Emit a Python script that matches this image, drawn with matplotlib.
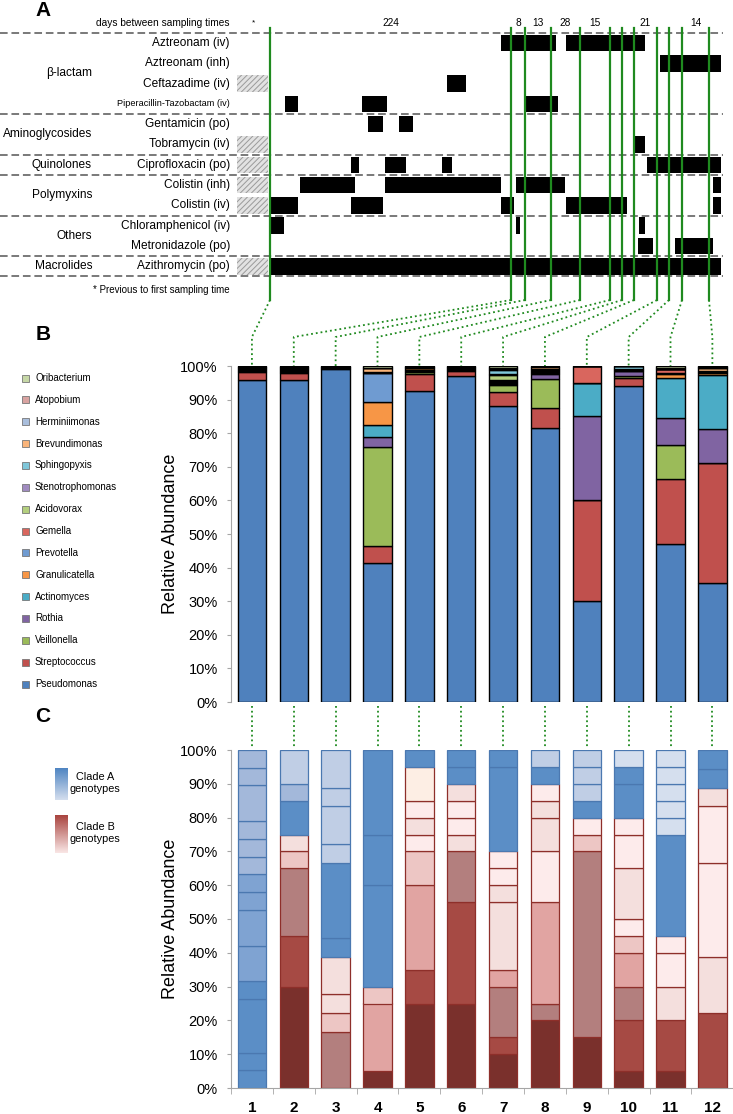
import numpy as np
import matplotlib
matplotlib.use('Agg')
import matplotlib.pyplot as plt
from matplotlib.patches import Rectangle
from matplotlib.colors import LinearSegmentedColormap

plt.rcParams['font.family'] = ['Liberation Sans', 'DejaVu Sans']
plt.rcParams['hatch.linewidth'] = 0.7

# ---------------- panel A data (timeline) ----------------
sample_x = [270, 511, 525, 551, 580, 610, 622, 634, 657, 669, 682, 709]
gap_labels = {0: '224', 1: '8', 2: '13', 3: '28', 4: '15', 7: '21', 10: '14'}

drug_names = ['Aztreonam (iv)', 'Aztreonam (inh)', 'Ceftazadime (iv)',
              'Piperacillin-Tazobactam (iv)', 'Gentamicin (po)', 'Tobramycin (iv)',
              'Ciprofloxacin (po)', 'Colistin (inh)', 'Colistin (iv)',
              'Chloramphenicol (iv)', 'Metronidazole (po)', 'Azithromycin (po)']
drug_prev = [0, 0, 1, 0, 0, 1, 1, 1, 1, 0, 0, 1]
drug_periods = [
    [(501, 556), (566, 645)],
    [(660, 721)],
    [(447, 466)],
    [(285, 298), (362, 387), (526, 558)],
    [(368, 383), (399, 413)],
    [(635, 645)],
    [(351, 359), (385, 406), (442, 452), (647, 721)],
    [(300, 355), (385, 501), (516, 565), (713, 721)],
    [(271, 298), (351, 383), (501, 514), (566, 627), (713, 721)],
    [(271, 284), (516, 520), (639, 645)],
    [(638, 653), (675, 713)],
    [(271, 721)],
]
groups = ['β-lactam', 'Aminoglycosides', 'Quinolones', 'Polymyxins', 'Others', 'Macrolides']
group_rows = [(0, 3), (4, 5), (6, 6), (7, 8), (9, 10), (11, 11)]

# ---------------- panel B data (% relative abundance) ----------------
species = ['Pseudomonas', 'Streptococcus', 'Veillonella', 'Rothia', 'Actinomyces',
           'Granulicatella', 'Prevotella', 'Gemella', 'Acidovorax', 'Stenotrophomonas',
           'Sphingopyxis', 'Brevundimonas', 'Herminiimonas', 'Atopobium', 'Oribacterium']
sp_colors = ['#4F81BD', '#C0504D', '#9BBB59', '#8064A2', '#4BACC6', '#F79646',
             '#6F9BD1', '#D9665E', '#B4CF7E', '#A08BC0', '#7FC7DA', '#F9B47A',
             '#A9BEDC', '#D9A3A1', '#C6D7A6']
pseudomonas    = [95.8, 95.8, 99.1, 41.5, 92.7, 97.0, 88.1, 81.4, 30.0, 94.0, 47.0, 35.3]
streptococcus  = [2.5, 2.0, 0.2, 5.0, 5.0, 1.4, 4.3, 6.0, 30.0, 2.5, 19.4, 35.7]
veillonella    = [0.3, 0.3, 0.2, 29.5, 0.6, 0.5, 2.0, 8.7, 0, 0.4, 10.1, 0]
rothia         = [0.3, 0.5, 0.2, 3.0, 0.2, 0.3, 0.3, 1.5, 25.0, 1.5, 8.0, 10.2]
actinomyces    = [0.3, 0.3, 0.1, 3.4, 0.2, 0.2, 0.3, 0.3, 10.0, 0.2, 12.0, 16.1]
granulicatella = [0.2, 0.3, 0.1, 6.8, 0.7, 0.2, 0.3, 0.3, 0, 0.2, 1.0, 0.7]
prevotella     = [0.2, 0.2, 0, 8.6, 0, 0, 0.2, 0.2, 0, 0.2, 0.3, 0.2]
gemella        = [0.2, 0.2, 0.1, 0.2, 0, 0, 0.2, 0.3, 5.0, 0.2, 1.2, 0.2]
acidovorax     = [0.1, 0.2, 0, 0.2, 0.3, 0.4, 1.6, 0.2, 0, 0, 0, 0.2]
stenotrophomonas = [0.1, 0, 0, 0, 0, 0, 0.2, 0.2, 0, 0, 0, 0]
sphingopyxis   = [0, 0, 0, 0, 0, 0, 1.2, 0, 0, 0.7, 0, 0]
brevundimonas  = [0, 0.2, 0, 1.1, 0.3, 0, 0.5, 0.5, 0, 0.1, 0, 0.7]
herminiimonas  = [0, 0, 0, 0, 0, 0, 0.3, 0.4, 0, 0, 0, 0.2]
atopobium      = [0, 0, 0, 0, 0, 0, 0, 0, 0, 0, 0.3, 0.2]
oribacterium   = [0, 0, 0, 0.7, 0, 0, 0.5, 0, 0, 0, 0.7, 0.3]
abund = [pseudomonas, streptococcus, veillonella, rothia, actinomyces, granulicatella,
         prevotella, gemella, acidovorax, stenotrophomonas, sphingopyxis, brevundimonas,
         herminiimonas, atopobium, oribacterium]

# ---------------- panel C data (cumulative tops of genotype segments, %) ----------------
c_tops = [
    [5.3, 10.5, 26.3, 31.6, 42.1, 52.6, 57.9, 63.2, 68.4, 73.7, 78.9, 89.5, 94.7, 100],
    [30, 45, 65, 70, 75, 85, 90, 100],
    [16.7, 22.2, 27.8, 38.9, 44.4, 66.7, 72.2, 83.3, 88.9, 100],
    [5, 25, 30, 60, 75, 100],
    [25, 35, 60, 70, 75, 80, 85, 95, 100],
    [25, 55, 70, 75, 80, 85, 90, 95, 100],
    [10, 15, 30, 35, 55, 60, 65, 70, 95, 100],
    [20, 25, 55, 70, 80, 85, 90, 95, 100],
    [15, 70, 75, 80, 85, 90, 95, 100],
    [5, 20, 30, 40, 45, 50, 65, 75, 80, 90, 95, 100],
    [5, 20, 30, 40, 45, 75, 80, 85, 90, 95, 100],
    [22.2, 38.9, 66.7, 83.3, 88.9, 94.4, 100],
]
c_shades = [
    ['A1', 'A1', 'A1', 'A1', 'A2', 'A2', 'A2', 'A2', 'A3', 'A3', 'A3', 'A3', 'A3', 'A3'],
    ['B1', 'B2', 'B3', 'B5', 'B6', 'A1', 'A3', 'A4'],
    ['B3', 'B5', 'B6', 'B6', 'A1', 'A1', 'A4', 'A4', 'A4', 'A4'],
    ['B1', 'B4', 'B5', 'A1', 'A1', 'A1'],
    ['B1', 'B2', 'B4', 'B5', 'B7', 'B6', 'B7', 'B8', 'A1'],
    ['B1', 'B2', 'B3', 'B6', 'B7', 'B7', 'B6', 'A1', 'A1'],
    ['B1', 'B2', 'B3', 'B4', 'B6', 'B6', 'B7', 'B7', 'A1', 'A1'],
    ['B1', 'B3', 'B4', 'B7', 'B6', 'B6', 'B7', 'A1', 'A4'],
    ['B1', 'B3', 'B5', 'B7', 'A1', 'A4', 'A4', 'A4'],
    ['B1', 'B2', 'B3', 'B4', 'B5', 'B7', 'B6', 'B7', 'B7', 'A1', 'A1', 'A5'],
    ['B1', 'B2', 'B6', 'B7', 'B7', 'A1', 'A5', 'A5', 'A5', 'A5', 'A5'],
    ['B2', 'B6', 'B7', 'B7', 'B6', 'A1', 'A1'],
]
shade_col = {'A1': '#5B8EC6', 'A2': '#7FA3D2', 'A3': '#A3B8DA', 'A4': '#C0CEE5', 'A5': '#D5DFEE',
             'B1': '#7A302C', 'B2': '#A64A44', 'B3': '#B37F7E', 'B4': '#E1A4A2',
             'B5': '#EDC6C4', 'B6': '#F4DFDD', 'B7': '#FDEBEB', 'B8': '#FDEEE4'}
sample_labels = [str(i) for i in range(1, 13)]

green = '#1F8A1F'
W, H = 733, 1114
fig = plt.figure(figsize=(W / 100, H / 100), dpi=100)

# overlay in pixel units (panel A, labels, connectors)
ax0 = fig.add_axes([0, 0, 1, 1])
ax0.set_xlim(0, W)
ax0.set_ylim(H, 0)
ax0.axis('off')

row_y = [43 + 20.3 * i for i in range(12)]
bar_h = 16.5

ax0.text(43, 11, 'A', fontsize=15, fontweight='bold', ha='center', va='center')
ax0.text(43, 334, 'B', fontsize=15, fontweight='bold', ha='center', va='center')
ax0.text(43, 717, 'C', fontsize=15, fontweight='bold', ha='center', va='center')

ax0.text(230, 23, 'days between sampling times', fontsize=7.3, ha='right', va='center')
ax0.text(253, 23, '*', fontsize=6, ha='center', va='center')
for g, lab in gap_labels.items():
    ax0.text((sample_x[g] + sample_x[g + 1]) / 2, 23, lab, fontsize=7.3, ha='center', va='center')

# separators
seps = [row_y[0] - 10] + [(row_y[b] + row_y[b + 1]) / 2 for _, b in group_rows[:-1]] + [row_y[-1] + 10]
for s in seps:
    ax0.plot([0, 723], [s, s], ls=(0, (5, 2.5)), color='#555555', lw=1.1)

for i, name in enumerate(drug_names):
    fs = 6.6 if len(name) > 22 else 8.6
    ax0.text(230, row_y[i], name, fontsize=fs, ha='right', va='center')
    if drug_prev[i]:
        ax0.add_patch(Rectangle((237, row_y[i] - bar_h / 2), 31, bar_h, facecolor='#E2E2E2',
                                edgecolor='#9A9A9A', hatch='//////', lw=0))
    for a, b in drug_periods[i]:
        ax0.add_patch(Rectangle((a, row_y[i] - bar_h / 2), b - a, bar_h, facecolor='black', lw=0))

for g, (a, b) in zip(groups, group_rows):
    ax0.text(92, (row_y[a] + row_y[b]) / 2, g, fontsize=8.6, ha='right', va='center')

ax0.text(230, 290, '* Previous to first sampling time', fontsize=7, ha='right', va='center')

for x in sample_x:
    ax0.plot([x, x], [28, 300], color=green, lw=1.6)

# ---------------- panel B ----------------
axB = fig.add_axes([231 / W, (H - 702) / H, 502.3 / W, 336 / H])
axB.set_facecolor('none')
xpos = np.arange(12)
bottom = np.zeros(12)
for vals, col in zip(abund, sp_colors):
    v = np.array(vals)
    axB.bar(xpos, v, 0.68, bottom=bottom, color=col, edgecolor='black', lw=1.0)
    bottom += v
axB.set_xlim(-0.5, 11.5)
axB.set_ylim(0, 100)
axB.set_yticks(range(0, 101, 10))
axB.set_yticklabels([f'{t}%' for t in range(0, 101, 10)], fontsize=10.5)
axB.set_xticks([])
for s in ['top', 'right', 'bottom']:
    axB.spines[s].set_visible(False)
axB.spines['left'].set_color('#A6A6A6')
axB.tick_params(axis='y', length=3, color='#A6A6A6', pad=6.5)
axB.set_ylabel('Relative Abundance', fontsize=13, labelpad=1)

# legend for B
for k, (name, col) in enumerate(zip(species[::-1], sp_colors[::-1])):
    y = 378 + 21.86 * k
    ax0.add_patch(Rectangle((22, y - 3.5), 7, 7, facecolor=col, edgecolor='#777777', lw=0.6))
    ax0.text(35, y, name, fontsize=7, ha='left', va='center')

# ---------------- panel C ----------------
axC = fig.add_axes([231 / W, (H - 1088) / H, 502.3 / W, 338 / H])
axC.set_facecolor('none')
for i in range(12):
    lo = 0
    for top, sh in zip(c_tops[i], c_shades[i]):
        ec = '#4B78B0' if sh.startswith('A') else '#8E2F2A'
        axC.bar(i, top - lo, 0.68, bottom=lo, color=shade_col[sh], edgecolor=ec, lw=0.9)
        lo = top
axC.set_xlim(-0.5, 11.5)
axC.set_ylim(0, 100)
axC.set_yticks(range(0, 101, 10))
axC.set_yticklabels([f'{t}%' for t in range(0, 101, 10)], fontsize=10.5)
axC.set_xticks(xpos)
axC.set_xticklabels(sample_labels, fontsize=11, fontweight='bold')
axC.set_xticks(np.arange(-0.5, 12, 1), minor=True)
axC.tick_params(axis='x', which='major', length=0, pad=9)
axC.tick_params(axis='x', which='minor', length=4, color='#A6A6A6')
axC.tick_params(axis='y', length=3, color='#A6A6A6', pad=6.5)
for s in ['top', 'right']:
    axC.spines[s].set_visible(False)
axC.spines['left'].set_color('#A6A6A6')
axC.spines['bottom'].set_color('#A6A6A6')
axC.set_ylabel('Relative Abundance', fontsize=13, labelpad=1)

# clade legend (gradients)
grad = np.linspace(0, 1, 64).reshape(-1, 1)
cmA = LinearSegmentedColormap.from_list('a', ['#4F85C2', '#D4DEEE'])
cmB = LinearSegmentedColormap.from_list('b', ['#A9443F', '#F9E6E5'])
ax0.imshow(grad, cmap=cmA, extent=(55, 68, 800, 768), aspect='auto', zorder=2)
ax0.imshow(grad, cmap=cmB, extent=(55, 68, 853, 815), aspect='auto', zorder=2)
ax0.set_xlim(0, W)
ax0.set_ylim(H, 0)
ax0.text(95, 783, 'Clade A\ngenotypes', fontsize=7.8, ha='center', va='center', linespacing=1.2)
ax0.text(95, 833, 'Clade B\ngenotypes', fontsize=7.8, ha='center', va='center', linespacing=1.2)

# dotted connectors
inv = ax0.transData.inverted()
for i in range(12):
    bx, by = inv.transform(axB.transData.transform((i, 100)))
    ax0.plot([sample_x[i], bx, bx], [300, 337, by], ls=':', color=green, lw=1.3)
    b0x, b0y = inv.transform(axB.transData.transform((i, 0)))
    c1x, c1y = inv.transform(axC.transData.transform((i, 100)))
    ax0.plot([b0x, c1x], [b0y + 4, c1y - 2], ls=':', color=green, lw=1.3)

fig.savefig('out.png', dpi=100)
